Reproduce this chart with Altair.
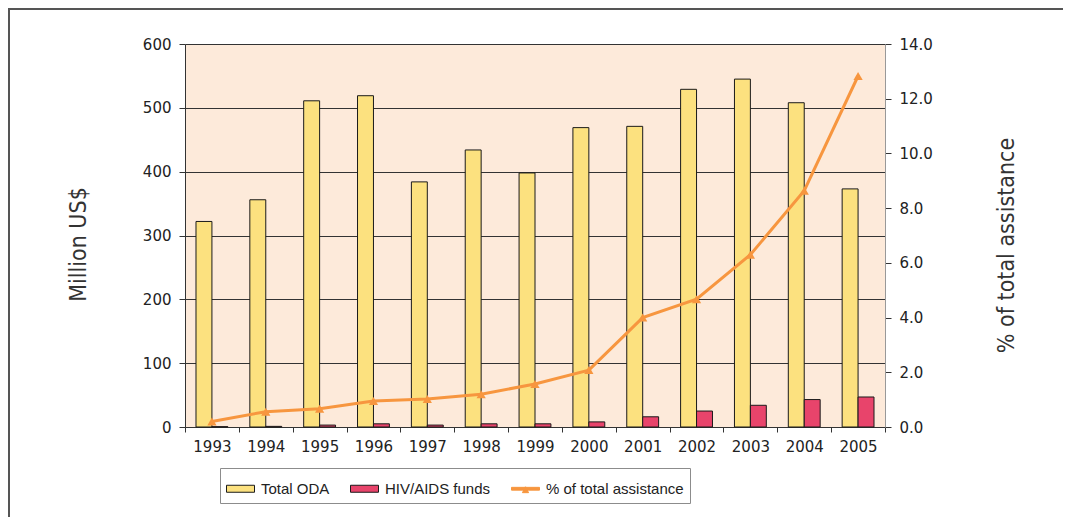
import altair as alt
import pandas as pd

# ---- data ----
years = [str(y) for y in range(1993, 2006)]
total_oda = [322, 356, 511, 519, 384, 434, 398, 469, 471, 529, 545, 508, 373]
hiv_funds = [0.5, 1, 3, 5, 3, 5, 5, 8, 16, 25, 34, 43, 47]
pct_total = [0.2, 0.56, 0.67, 0.95, 1.02, 1.2, 1.57, 2.08, 4.0, 4.67, 6.3, 8.64, 12.83]

series_names = ["Total ODA", "HIV/AIDS funds", "% of total assistance"]
left_ticks = [0, 100, 200, 300, 400, 500, 600]
right_ticks = [0, 2, 4, 6, 8, 10, 12, 14]

# ---- styles ----
ODA_COL = "#FCE17F"
HIV_COL = "#E8446B"
PCT_COL = "#F7963F"
series_colors = [ODA_COL, HIV_COL, PCT_COL]
series_strokes = ["#1a1a1a", "#1a1a1a", PCT_COL]
RECT = "M-1,-0.25H1V0.25H-1Z"
LINE_TRI = "M-1,-0.1H1V0.1H-1Z M-0.22,0.28L0,-0.14L0.22,0.28Z"
series_shapes = [RECT, RECT, LINE_TRI]

TICK_FONT = "DejaVu Sans"
TITLE_FONT = "Liberation Sans Narrow, DejaVu Sans Condensed, sans-serif"
LEG_FONT = "Liberation Sans"

W, H = 700, 383
PAD = {"left": 177, "top": 36, "right": 178, "bottom": 90}

bars_df = pd.DataFrame({
    "year": years * 2,
    "series": [series_names[0]] * len(years) + [series_names[1]] * len(years),
    "value": total_oda + hiv_funds,
})
pct_df = pd.DataFrame({"year": years, "series": series_names[2], "pct": pct_total})
one = pd.DataFrame({"k": [0]})

x_axis = alt.Axis(title=None, tickBand="extent", labelAngle=0, labelFont=TICK_FONT,
                  labelFontSize=15, labelColor="#222", labelPadding=7, tickSize=5,
                  tickColor="#333", domainColor="#333", grid=False)
x_enc = alt.X("year:N", sort=years,
              scale=alt.Scale(paddingInner=0, paddingOuter=0), axis=x_axis)

left_axis = alt.Axis(values=left_ticks, grid=True, gridColor="#333", gridOpacity=1,
                     title="Million US$", titleFont=TITLE_FONT, titleFontSize=23,
                     titleFontWeight="normal", titleColor="#333", titleAngle=270,
                     titleX=-107, titleY=200, titleAlign="center", titleBaseline="middle",
                     labelFont=TICK_FONT, labelFontSize=15, labelColor="#222",
                     labelPadding=8, tickSize=6, tickColor="#333", domainColor="#333")

right_axis = alt.Axis(orient="right", values=right_ticks, format=".1f", grid=False,
                      title="% of total assistance", titleFont=TITLE_FONT, titleFontSize=23,
                      titleFontWeight="normal", titleColor="#333", titleAngle=270,
                      titleX=121, titleY=201, titleAlign="center", titleBaseline="middle",
                      labelFont=TICK_FONT, labelFontSize=15, labelColor="#222",
                      labelPadding=8, tickSize=6, tickColor="#333", domainColor="#999")

y_right = alt.Y("pct:Q", scale=alt.Scale(domain=[0, 14], nice=False), axis=right_axis)

legend = alt.Legend(title=None, orient="none", legendX=35, legendY=424,
                    direction="horizontal", strokeColor="#8c8c8c", fillColor="white",
                    padding=6, columnPadding=18, labelFont=LEG_FONT, labelFontSize=15,
                    labelColor="#222", labelOffset=6, symbolSize=784,
                    symbolStrokeWidth=1, symbolOpacity=1)

bars = alt.Chart(bars_df).mark_bar(stroke="#1a1a1a", strokeWidth=1).encode(
    x=x_enc,
    xOffset=alt.XOffset("series:N", sort=series_names[:2],
                        scale=alt.Scale(domain=series_names[:2], paddingInner=0,
                                        paddingOuter=0.69)),
    y=alt.Y("value:Q", scale=alt.Scale(domain=[0, 600], nice=False), axis=left_axis),
    fill=alt.Fill("series:N", scale=alt.Scale(domain=series_names[:2],
                                               range=series_colors[:2]), legend=None),
)

line = alt.Chart(pct_df).mark_line(color=PCT_COL, strokeWidth=3).encode(
    x=x_enc, y=y_right)

pts = alt.Chart(pct_df).mark_point(shape="triangle-up", filled=True, color=PCT_COL,
                                    size=85, opacity=1).encode(x=x_enc, y=y_right)

legend_layer = alt.Chart(pct_df).mark_point(filled=True).encode(
    x=x_enc, y=y_right,
    opacity=alt.value(0),
    color=alt.Color("series:N", scale=alt.Scale(domain=series_names, range=series_colors),
                    legend=legend),
    shape=alt.Shape("series:N", scale=alt.Scale(domain=series_names, range=series_shapes),
                    legend=legend),
    stroke=alt.Stroke("series:N", scale=alt.Scale(domain=series_names, range=series_strokes),
                      legend=legend),
)

frame_top = alt.Chart(one).mark_rule(color="#555", strokeWidth=2).encode(
    x=alt.value(-177), x2=alt.value(W + 178), y=alt.value(-35))
frame_left = alt.Chart(one).mark_rule(color="#555", strokeWidth=2).encode(
    x=alt.value(-176), y=alt.value(-36), y2=alt.value(H + 90))

right_layer = alt.layer(line, pts, legend_layer)

chart = alt.layer(frame_top, frame_left, bars, right_layer).resolve_scale(
    y="independent"
).properties(
    width=W, height=H,
    autosize=alt.AutoSizeParams(type="none"),
    padding=PAD,
).configure_view(fill="#FDEADA", stroke="transparent")

chart.save("out.html", embed_options={"renderer": "svg", "actions": False})
